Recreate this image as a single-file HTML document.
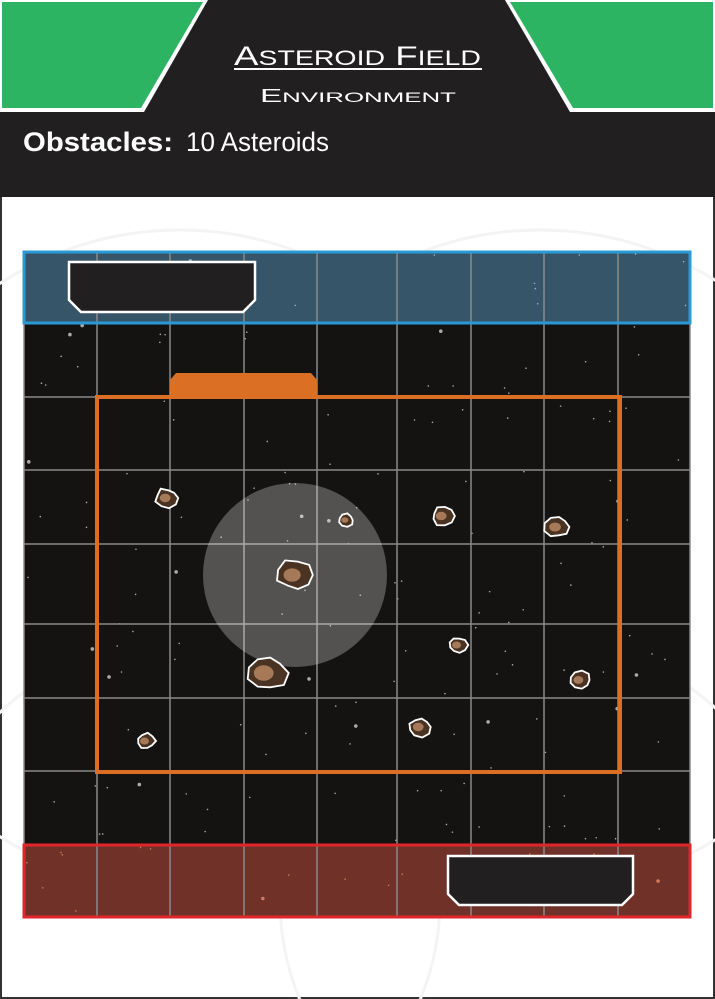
<!DOCTYPE html>
<html><head><meta charset="utf-8"><style>
html,body{margin:0;padding:0;background:#fff;overflow:hidden;width:715px;height:999px;position:relative}
svg{display:block;overflow:hidden;position:absolute;left:0;top:0}
script{display:none}
</style></head><body>
<svg width="715" height="999" viewBox="0 0 715 999" overflow="hidden" xmlns="http://www.w3.org/2000/svg">
<defs><clipPath id="cardclip"><rect x="0" y="0" width="715" height="999"/></clipPath></defs>
<g clip-path="url(#cardclip)">
<rect x="1" y="1" width="713" height="997" fill="#fff" stroke="#333" stroke-width="2"/>
<g fill="none" stroke="#f4f4f4" stroke-width="3">
<circle cx="180" cy="560" r="330"/><circle cx="540" cy="560" r="330"/>
<circle cx="180" cy="900" r="260"/><circle cx="540" cy="900" r="260"/>
</g>
<rect x="0" y="0" width="715" height="197" fill="#221f20"/>
<polygon points="0,0 208,0 144,112 0,112" fill="#fff"/>
<polygon points="2,2 203,2 141,108 2,108" fill="#2db462"/>
<polygon points="715,0 505,0 570,112 715,112" fill="#fff"/>
<polygon points="713,2 510,2 573,108 713,108" fill="#2db462"/>
<text x="234" y="65" textLength="247" lengthAdjust="spacingAndGlyphs" fill="#fff" font-family="Liberation Sans, sans-serif" font-size="27">A<tspan font-size="21">STEROID</tspan> F<tspan font-size="21">IELD</tspan></text>
<rect x="234" y="68" width="248" height="2" fill="#fff"/>
<text x="260" y="102" textLength="196" lengthAdjust="spacingAndGlyphs" fill="#fff" font-family="Liberation Sans, sans-serif" font-size="18">E<tspan font-size="14">NVIRONMENT</tspan></text>
<text x="23" y="151" textLength="150" lengthAdjust="spacingAndGlyphs" fill="#fff" font-family="Liberation Sans, sans-serif" font-size="27" font-weight="bold">Obstacles:</text>
<text x="186" y="151" textLength="143" lengthAdjust="spacingAndGlyphs" fill="#fff" font-family="Liberation Sans, sans-serif" font-size="27">10 Asteroids</text>

<g id="board">
<rect x="24" y="252" width="666" height="665" fill="#141311"/>
<rect x="24" y="252" width="666" height="71" fill="#375568"/>
<rect x="24" y="845" width="666" height="72" fill="#6f3128"/>
<g id="stars"></g>
<g id="grid" stroke="#8a8a8a" stroke-width="1.5"></g>
<circle cx="295" cy="575" r="92" fill="#ffffff" fill-opacity="0.27"/>
<rect x="97" y="397" width="523" height="375" fill="none" stroke="#db7024" stroke-width="4"/>
<polygon points="170,397 170,380 176,373 311,373 317,380 317,397" fill="#db7024"/>
<rect x="24" y="252" width="666" height="71" fill="none" stroke="#2a9ad6" stroke-width="3"/>
<rect x="24" y="845" width="666" height="72" fill="none" stroke="#e0262b" stroke-width="3"/>
<polygon points="69,262 255,262 255,300 243,312 81,312 69,300" fill="#221f20" stroke="#fff" stroke-width="2.5"/>
<polygon points="448,856 633,856 633,894 622,905 459,905 448,894" fill="#221f20" stroke="#fff" stroke-width="2.5"/>
<g id="asteroids"></g>
</g>
</g>
</svg>
<script>
const asteroidX=[167,346,443,557,295,458,267,580,420,146];
const asteroidY=[498,520,516,527,575,645,673,680,727,741];
const asteroidR=[12,8,12,13,19,10,22,11,12,10];
const gridX=[24,97,170,244,317,397,471,544,618,690];
const gridY=[252,323,397,470,544,624,698,771,845,917];
const ns="http://www.w3.org/2000/svg";
const grid=document.getElementById('grid');
for(const x of gridX){const l=document.createElementNS(ns,'line');


l.setAttribute('x1',x);l.setAttribute('x2',x);l.setAttribute('y1',252);l.setAttribute('y2',917);grid.appendChild(l);}
for(const y of gridY){const l=document.createElementNS(ns,'line');


l.setAttribute('x1',24);l.setAttribute('x2',690);l.setAttribute('y1',y);l.setAttribute('y2',y);grid.appendChild(l);}
let seed=7;function rnd(){seed=(seed*16807)%2147483647;return seed/2147483647;}
const stars=document.getElementById('stars');
for(let i=0;i<180;i++){const c=document.createElementNS(ns,'circle');


const y=254+rnd()*661;
c.setAttribute('cx',26+rnd()*662);c.setAttribute('cy',y);c.setAttribute('r',rnd()<0.12?1.8:0.8);
c.setAttribute('fill',y<323?'#8fb3c8':(y>845?'#d07a60':'#aaaaaa'));stars.appendChild(c);}
const ast=document.getElementById('asteroids');
for(let i=0;i<asteroidX.length;i++){
const cx=asteroidX[i],cy=asteroidY[i],r=asteroidR[i];let pts=[];
for(let k=0;k<9;k++){const a=k/9*Math.PI*2;const rr=r*(0.75+0.3*rnd());pts.push((cx+Math.cos(a)*rr).toFixed(1)+','+(cy+Math.sin(a)*rr*0.85).toFixed(1));}
const p=document.createElementNS(ns,'polygon');


p.setAttribute('points',pts.join(' '));p.setAttribute('fill','#4a3322');p.setAttribute('stroke','#fff');p.setAttribute('stroke-width','1.8');ast.appendChild(p);
const h=document.createElementNS(ns,'ellipse');


h.setAttribute('cx',cx-r*0.15);h.setAttribute('cy',cy);h.setAttribute('rx',r*0.45);h.setAttribute('ry',r*0.35);h.setAttribute('fill','#a67a58');ast.appendChild(h);}
</script>
</body></html>
